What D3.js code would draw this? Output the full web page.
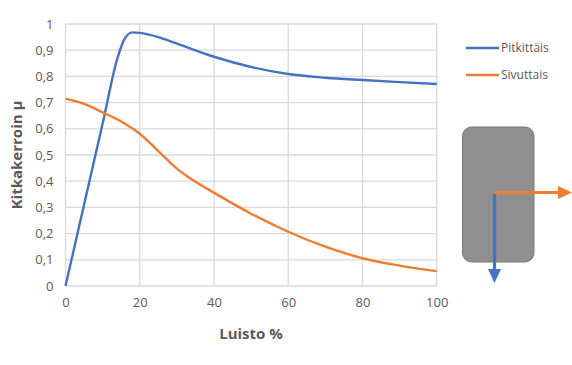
<!DOCTYPE html>
<html>
<head>
<meta charset="utf-8">
<script src="https://cdn.jsdelivr.net/npm/d3@7"></script>
<style>
  html, body { margin: 0; padding: 0; background: #fff; }
  svg { display: block; font-family: "Open Sans", "Liberation Sans", sans-serif; }
</style>
</head>
<body>
<svg id="chart" width="572" height="365"></svg>
<script>
// Slip (%) against friction coefficient, longitudinal and lateral
const slipLong = [0, 5, 10, 14, 16, 18, 20, 25, 30, 40, 50, 60, 70, 80, 90, 100];
const longitudinal = [0, 0.31, 0.62, 0.87, 0.945, 0.968, 0.966, 0.95, 0.925, 0.875, 0.836, 0.809, 0.795, 0.786, 0.778, 0.771];
const slipLat = [0, 5, 10, 15, 20, 25, 30, 35, 40, 50, 60, 70, 80, 90, 100];
const lateral = [0.715, 0.695, 0.663, 0.628, 0.581, 0.515, 0.448, 0.398, 0.356, 0.276, 0.207, 0.15, 0.106, 0.078, 0.057];
const seriesNames = ["Pitkittäis", "Sivuttais"];
const seriesColors = ["#4472C4", "#ED7D31"];
const xTicks = [0, 20, 40, 60, 80, 100];
const yTicks = [0, 0.1, 0.2, 0.3, 0.4, 0.5, 0.6, 0.7, 0.8, 0.9, 1];

const svg = d3.select("#chart");
const plot = { left: 65.5, right: 436.7, top: 24, bottom: 286 };

const x = d3.scaleLinear().domain([0, 100]).range([plot.left, plot.right]);
const y = d3.scaleLinear().domain([0, 1]).range([plot.bottom, plot.top]);

const fmt = v => String(+v.toFixed(1)).replace(".", ",");

// gridlines
const grid = svg.append("g").attr("stroke", "#d9d9d9").attr("stroke-width", 1.3);
yTicks.forEach(t => grid.append("line")
  .attr("x1", plot.left).attr("x2", plot.right)
  .attr("y1", y(t)).attr("y2", y(t)));
xTicks.forEach(t => grid.append("line")
  .attr("x1", x(t)).attr("x2", x(t))
  .attr("y1", plot.top).attr("y2", plot.bottom));

// axes (labels only, lines drawn by grid)
const yAxis = svg.append("g")
  .attr("transform", `translate(${plot.left},0)`)
  .call(d3.axisLeft(y).tickValues(yTicks).tickFormat(fmt).tickSize(0).tickPadding(12));
const xAxis = svg.append("g")
  .attr("transform", `translate(0,${plot.bottom})`)
  .call(d3.axisBottom(x).tickValues(xTicks).tickFormat(d3.format("d")).tickSize(0).tickPadding(12));
[yAxis, xAxis].forEach(a => {
  a.select(".domain").remove();
  a.selectAll("text").attr("fill", "#595959").style("font-size", "13px")
    .style("font-family", "'Open Sans', sans-serif");
});

// series lines
const series = [[slipLong, longitudinal], [slipLat, lateral]];
series.forEach(([xs, vals], k) => {
  const line = d3.line().x((d, i) => x(xs[i])).y(d => y(d)).curve(d3.curveMonotoneX);
  svg.append("path").datum(vals)
    .attr("d", line)
    .attr("fill", "none")
    .attr("stroke", seriesColors[k])
    .attr("stroke-width", 2.4)
    .attr("stroke-linejoin", "round");
});

// axis titles
svg.append("text")
  .attr("x", 251).attr("y", 339)
  .attr("text-anchor", "middle")
  .attr("fill", "#595959")
  .style("font-size", "15px").style("font-weight", "bold")
  .text("Luisto %");
svg.append("text")
  .attr("transform", `translate(22,155) rotate(-90)`)
  .attr("text-anchor", "middle")
  .attr("fill", "#595959")
  .style("font-size", "15px").style("font-weight", "bold")
  .text("Kitkakerroin µ");

// legend
const legend = svg.append("g");
seriesNames.forEach((name, k) => {
  const ly = 48 + k * 27;
  legend.append("line")
    .attr("x1", 466).attr("x2", 499).attr("y1", ly).attr("y2", ly)
    .attr("stroke", seriesColors[k]).attr("stroke-width", 2.4);
  legend.append("text")
    .attr("x", 501).attr("y", ly).attr("dy", "0.35em")
    .attr("fill", "#595959")
    .style("font-size", "12px")
    .text(name);
});

// tyre footprint with force directions
const fig = svg.append("g");
fig.append("rect")
  .attr("x", 462.5).attr("y", 127).attr("width", 71.5).attr("height", 135)
  .attr("rx", 9).attr("ry", 9)
  .attr("fill", "#8f8f8f").attr("stroke", "#7a7a7a").attr("stroke-width", 1);
// longitudinal (down)
fig.append("line")
  .attr("x1", 494.5).attr("y1", 192).attr("x2", 494.5).attr("y2", 271)
  .attr("stroke", seriesColors[0]).attr("stroke-width", 3.2);
fig.append("path")
  .attr("d", "M488,269 L501,269 L494.5,283 Z")
  .attr("fill", seriesColors[0]);
// lateral (right)
fig.append("line")
  .attr("x1", 493).attr("y1", 192.5).attr("x2", 560).attr("y2", 192.5)
  .attr("stroke", seriesColors[1]).attr("stroke-width", 3.2);
fig.append("path")
  .attr("d", "M558,186 L572,192.5 L558,199 Z")
  .attr("fill", seriesColors[1]);
</script>
</body>
</html>
